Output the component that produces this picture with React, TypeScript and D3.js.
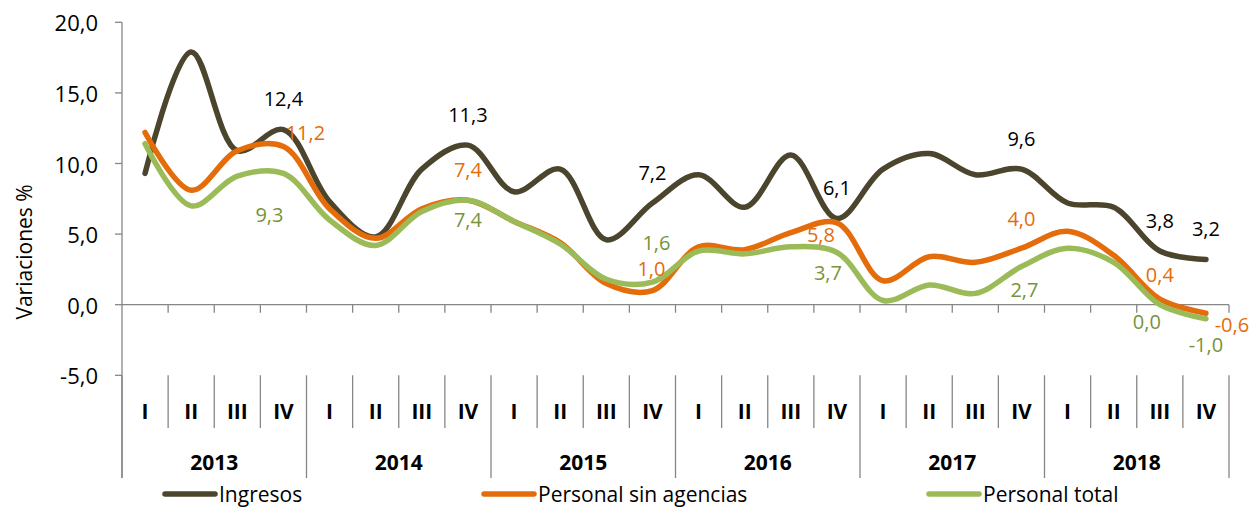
import { useMemo } from 'react';
import * as d3 from 'd3';

const years = ['2013', '2014', '2015', '2016', '2017', '2018'];
const quarters = ['I', 'II', 'III', 'IV'];
const categories = years.flatMap((y) => quarters.map((q) => `${q}-${y}`));

const ingresos = [9.3, 17.9, 10.9, 12.4, 7.3, 4.8, 9.6, 11.3, 8.0, 9.6, 4.6, 7.2, 9.2, 6.9, 10.6, 6.1, 9.6, 10.7, 9.2, 9.6, 7.2, 6.9, 3.8, 3.2];
const sinAgencias = [12.2, 8.1, 10.9, 11.2, 6.8, 4.7, 6.8, 7.4, 5.9, 4.4, 1.5, 1.0, 4.1, 3.9, 5.1, 5.8, 1.7, 3.4, 3.0, 4.0, 5.2, 3.5, 0.4, -0.6];
const personalTotal = [11.4, 7.0, 9.1, 9.3, 6.0, 4.2, 6.6, 7.4, 5.9, 4.3, 1.8, 1.6, 3.8, 3.6, 4.1, 3.7, 0.3, 1.4, 0.8, 2.7, 4.0, 3.0, 0.0, -1.0];

const yTicks = [-5, 0, 5, 10, 15, 20];
const labelled = [3, 7, 11, 15, 19, 22, 23];

// label placement (px offsets from the point), hand-tuned like the original
const offIngresos = labelled.map(() => [0, -31]);
const offSin = [[22, -14], [0, -31], [-1, -22], [-16, 12], [0, -30], [0, -25], [26, 11]];
const offTotal = [[-14, 41], [0, 19], [4, -40], [-9, 20], [3, 23], [-13, 17], [0, 26]];

const series = [
  { name: 'Ingresos', values: ingresos, color: '#4b452d', label: '#000000', offsets: offIngresos },
  { name: 'Personal sin agencias', values: sinAgencias, color: '#e46c0a', label: '#e46c0a', offsets: offSin },
  { name: 'Personal total', values: personalTotal, color: '#9bbb59', label: '#77933c', offsets: offTotal },
];

const legendX = [165, 484, 929];

const FONT = '"Open Sans", sans-serif';
const AXIS = '#868686';

const fmt = (v: number) => v.toFixed(1).replace('.', ',');

export default function App() {
  const x = useMemo(() => d3.scaleBand<string>().domain(categories).range([122, 1229]), []);
  const y = useMemo(() => d3.scaleLinear().domain([-5, 20]).range([375.3, 22.3]), []);
  const cx = (i: number) => (x(categories[i]) ?? 0) + x.bandwidth() / 2;

  const line = d3
    .line<number>()
    .x((_, i) => cx(i))
    .y((d) => y(d))
    .curve(d3.curveCatmullRom.alpha(0.5));

  const bw = x.bandwidth();
  const y0 = y(0);

  return (
    <svg
      width={1250}
      height={507}
      style={{ position: 'absolute', left: 0, top: 0, background: '#fff' }}
      fontFamily={FONT}
    >
      {/* y axis */}
      <line x1={122} x2={122} y1={y(20)} y2={478} stroke={AXIS} strokeWidth={1.3} />
      {yTicks.map((t) => (
        <g key={t}>
          <line x1={115} x2={122} y1={y(t)} y2={y(t)} stroke={AXIS} strokeWidth={1.3} />
          <text x={98} y={y(t)} textAnchor="end" dominantBaseline="central" fontSize={22} fill="#000">
            {fmt(t)}
          </text>
        </g>
      ))}
      <text
        transform={`translate(24,252) rotate(-90)`}
        textAnchor="middle"
        dominantBaseline="central"
        fontSize={21}
        fill="#000"
      >
        Variaciones %
      </text>

      {/* x axis at zero */}
      <line x1={122} x2={1229} y1={y0} y2={y0} stroke={AXIS} strokeWidth={1.3} />
      {d3.range(1, categories.length + 1).map((i) => (
        <line key={i} x1={122 + i * bw} x2={122 + i * bw} y1={y0} y2={y0 + 8} stroke={AXIS} strokeWidth={1.3} />
      ))}

      {/* category label area */}
      {d3.range(0, categories.length + 1).map((i) => (
        <line
          key={i}
          x1={122 + i * bw}
          x2={122 + i * bw}
          y1={y(-5)}
          y2={i % 4 === 0 ? 478 : 428}
          stroke={AXIS}
          strokeWidth={1.3}
        />
      ))}
      {categories.map((c, i) => (
        <text key={c} x={cx(i)} y={411} textAnchor="middle" dominantBaseline="central" fontSize={21} fontWeight={700} fill="#000">
          {quarters[i % 4]}
        </text>
      ))}
      {years.map((yr, j) => (
        <text key={yr} x={122 + (j * 4 + 2) * bw} y={462} textAnchor="middle" dominantBaseline="central" fontSize={21} fontWeight={700} fill="#000">
          {yr}
        </text>
      ))}

      {/* series */}
      {series.map((s) => (
        <path
          key={s.name}
          d={line(s.values) ?? ''}
          fill="none"
          stroke={s.color}
          strokeWidth={5.5}
          strokeLinecap="round"
          strokeLinejoin="round"
        />
      ))}

      {/* data labels */}
      {series.map((s) =>
        labelled.map((i, k) => (
          <text
            key={`${s.name}-${i}`}
            x={cx(i) + s.offsets[k][0]}
            y={y(s.values[i]) + s.offsets[k][1]}
            textAnchor="middle"
            dominantBaseline="central"
            fontSize={20}
            fill={s.label}
          >
            {fmt(s.values[i])}
          </text>
        ))
      )}

      {/* legend */}
      {series.map((s, k) => (
        <g key={s.name}>
          <line x1={legendX[k]} x2={legendX[k] + 50} y1={494} y2={494} stroke={s.color} strokeWidth={5.5} strokeLinecap="round" />
          <text x={legendX[k] + 54} y={494} dominantBaseline="central" fontSize={21} fill="#000">
            {s.name}
          </text>
        </g>
      ))}
    </svg>
  );
}
